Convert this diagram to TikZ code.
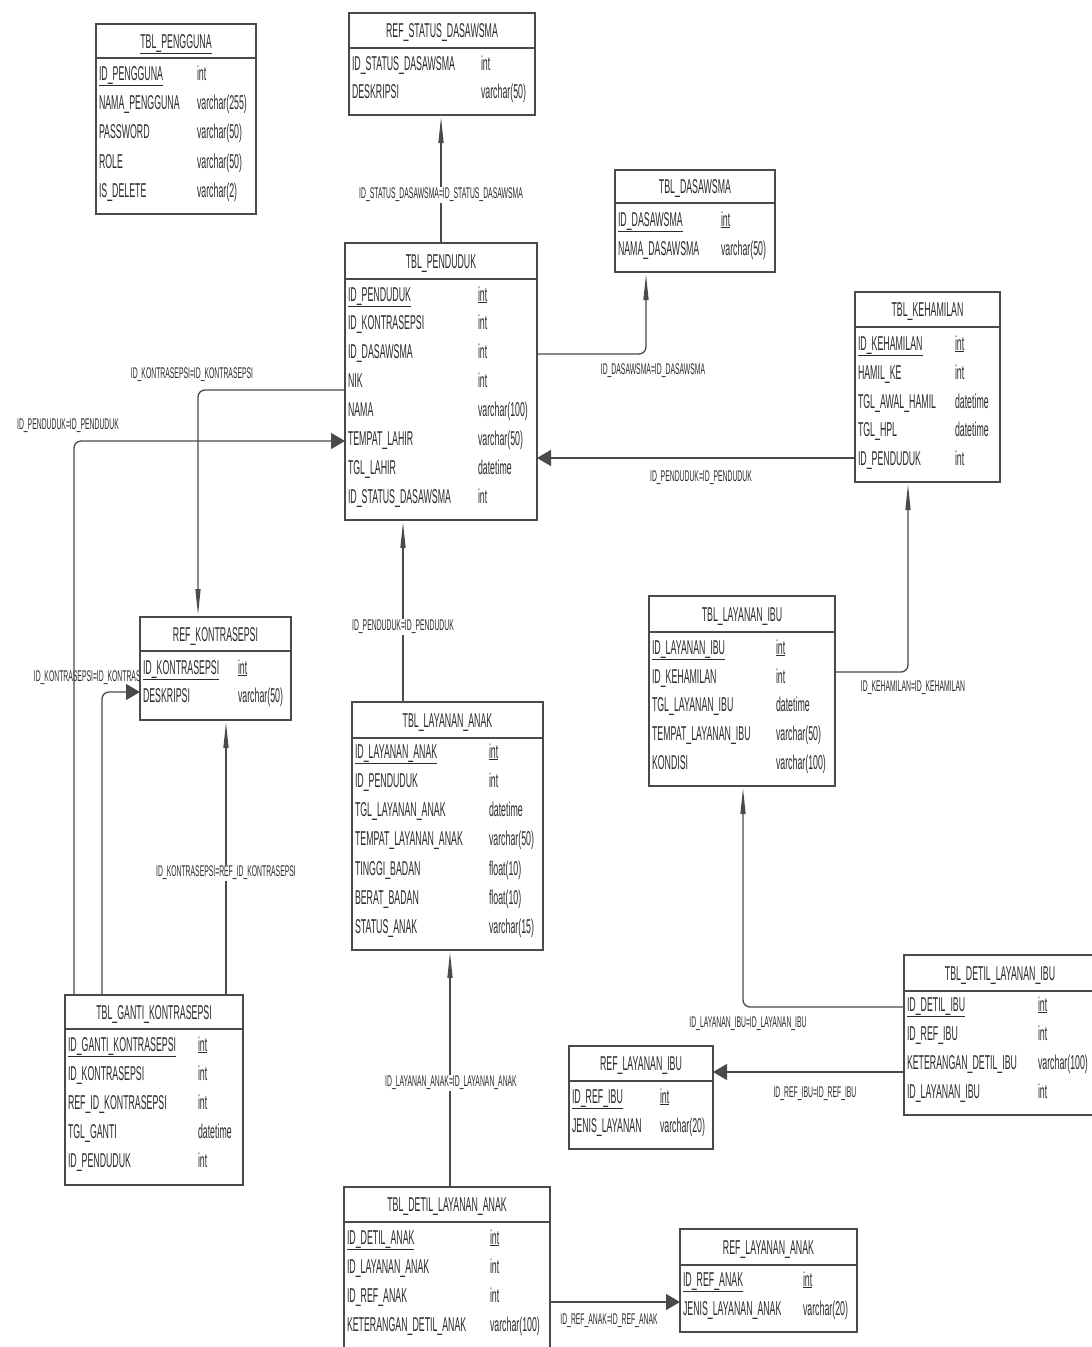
\documentclass[tikz,border=0pt]{standalone}
\usepackage{fontspec}
\newfontfamily\erfont{Liberation Sans}[FakeStretch=0.44]
\usetikzlibrary{arrows.meta}
\definecolor{ertext}{HTML}{2B2B2B}
\definecolor{erline}{HTML}{4A4A4A}
\tikzset{
  tbl/.style={draw=erline, line width=1.3pt, fill=white, inner sep=0pt, outer sep=0pt, rectangle},
  tline/.style={draw=erline, line width=1.3pt},
  tcell/.style={inner sep=0pt, outer sep=0pt, text=ertext, font=\erfont\fontsize{20}{22}\selectfont},
  rlabel/.style={inner sep=1.5pt, text=ertext, font=\erfont\fontsize{15.5}{17}\selectfont},
  onl/.style={fill=white},
  conn/.style={draw=erline, line width=1.3pt, rounded corners=7pt},
  htip/.style={-{Triangle[length=14pt,width=16pt]}},
  vtip/.style={-{Triangle[length=26pt,width=5pt]}, shorten >=2pt},
}
% name, x1, y1, x2, y2, header line y, title
\newcommand\etable[7]{%
  \node[tbl, minimum width={(#4-#2)*1pt}, minimum height={(#5-#3)*1pt}] (#1) at ({(#2+#4)/2},{(#3+#5)/2}) {};
  \draw[tline] (#2,#6) -- (#4,#6);
  \node[tcell, anchor=base] (#1-t) at ({(#2+#4)/2},{(#3+#6)/2+7}) {#7};
}
% name, x, y, field, type x, type
\newcommand\erow[6]{%
  \node[tcell, anchor=base west] (#1) at (#2,#3+7) {#4};
  \node[tcell, anchor=base west] (#1-ty) at (#5,#3+7) {#6};
}
\begin{document}
\begin{tikzpicture}[x=1pt,y=-1pt]
\useasboundingbox[fill=white] (0,0) rectangle (1092,1347);

% ---- labels drawn under boxes (may be hidden by them)
\node[rlabel] (lf) at (95,678) {ID\_KONTRASEPSI=ID\_KONTRASEPSI};

% ---- tables
\etable{pg}{96}{24}{256}{214}{58}{\underline{TBL\_PENGGUNA}}
\erow{pg1}{99}{73}{\underline{ID\_PENGGUNA}}{197}{int}
\erow{pg2}{99}{102}{NAMA\_PENGGUNA}{197}{varchar(255)}
\erow{pg3}{99}{131}{PASSWORD}{197}{varchar(50)}
\erow{pg4}{99}{161}{ROLE}{197}{varchar(50)}
\erow{pg5}{99}{190}{IS\_DELETE}{197}{varchar(2)}

\etable{rsd}{349}{13}{535}{115}{48}{REF\_STATUS\_DASAWSMA}
\erow{rsd1}{352}{63}{ID\_STATUS\_DASAWSMA}{481}{int}
\erow{rsd2}{352}{91}{DESKRIPSI}{481}{varchar(50)}

\etable{das}{615}{170}{775}{272}{203}{TBL\_DASAWSMA}
\erow{das1}{618}{219}{\underline{ID\_DASAWSMA}}{721}{\underline{int}}
\erow{das2}{618}{248}{NAMA\_DASAWSMA}{721}{varchar(50)}

\etable{pend}{345}{243}{537}{520}{279}{TBL\_PENDUDUK}
\erow{pend1}{348}{294}{\underline{ID\_PENDUDUK}}{478}{\underline{int}}
\erow{pend2}{348}{322}{ID\_KONTRASEPSI}{478}{int}
\erow{pend3}{348}{351}{ID\_DASAWSMA}{478}{int}
\erow{pend4}{348}{380}{NIK}{478}{int}
\erow{pend5}{348}{409}{NAMA}{478}{varchar(100)}
\erow{pend6}{348}{438}{TEMPAT\_LAHIR}{478}{varchar(50)}
\erow{pend7}{348}{467}{TGL\_LAHIR}{478}{datetime}
\erow{pend8}{348}{496}{ID\_STATUS\_DASAWSMA}{478}{int}

\etable{keh}{855}{292}{1000}{482}{327}{TBL\_KEHAMILAN}
\erow{keh1}{858}{343}{\underline{ID\_KEHAMILAN}}{955}{\underline{int}}
\erow{keh2}{858}{372}{HAMIL\_KE}{955}{int}
\erow{keh3}{858}{401}{TGL\_AWAL\_HAMIL}{955}{datetime}
\erow{keh4}{858}{429}{TGL\_HPL}{955}{datetime}
\erow{keh5}{858}{458}{ID\_PENDUDUK}{955}{int}

\etable{rk}{140}{617}{291}{720}{651}{REF\_KONTRASEPSI}
\erow{rk1}{143}{667}{\underline{ID\_KONTRASEPSI}}{238}{\underline{int}}
\erow{rk2}{143}{695}{DESKRIPSI}{238}{varchar(50)}

\etable{li}{649}{596}{835}{786}{632}{TBL\_LAYANAN\_IBU}
\erow{li1}{652}{647}{\underline{ID\_LAYANAN\_IBU}}{776}{\underline{int}}
\erow{li2}{652}{676}{ID\_KEHAMILAN}{776}{int}
\erow{li3}{652}{704}{TGL\_LAYANAN\_IBU}{776}{datetime}
\erow{li4}{652}{733}{TEMPAT\_LAYANAN\_IBU}{776}{varchar(50)}
\erow{li5}{652}{762}{KONDISI}{776}{varchar(100)}

\etable{la}{352}{702}{543}{950}{738}{TBL\_LAYANAN\_ANAK}
\erow{la1}{355}{751}{\underline{ID\_LAYANAN\_ANAK}}{489}{\underline{int}}
\erow{la2}{355}{780}{ID\_PENDUDUK}{489}{int}
\erow{la3}{355}{809}{TGL\_LAYANAN\_ANAK}{489}{datetime}
\erow{la4}{355}{838}{TEMPAT\_LAYANAN\_ANAK}{489}{varchar(50)}
\erow{la5}{355}{868}{TINGGI\_BADAN}{489}{float(10)}
\erow{la6}{355}{897}{BERAT\_BADAN}{489}{float(10)}
\erow{la7}{355}{926}{STATUS\_ANAK}{489}{varchar(15)}

\etable{gk}{65}{995}{243}{1185}{1029}{TBL\_GANTI\_KONTRASEPSI}
\erow{gk1}{68}{1044}{\underline{ID\_GANTI\_KONTRASEPSI}}{198}{\underline{int}}
\erow{gk2}{68}{1073}{ID\_KONTRASEPSI}{198}{int}
\erow{gk3}{68}{1102}{REF\_ID\_KONTRASEPSI}{198}{int}
\erow{gk4}{68}{1131}{TGL\_GANTI}{198}{datetime}
\erow{gk5}{68}{1160}{ID\_PENDUDUK}{198}{int}

\etable{dli}{904}{955}{1096}{1115}{991}{TBL\_DETIL\_LAYANAN\_IBU}
\erow{dli1}{907}{1004}{\underline{ID\_DETIL\_IBU}}{1038}{\underline{int}}
\erow{dli2}{907}{1033}{ID\_REF\_IBU}{1038}{int}
\erow{dli3}{907}{1062}{KETERANGAN\_DETIL\_IBU}{1038}{varchar(100)}
\erow{dli4}{907}{1091}{ID\_LAYANAN\_IBU}{1038}{int}

\etable{rli}{569}{1046}{713}{1149}{1081}{REF\_LAYANAN\_IBU}
\erow{rli1}{572}{1096}{\underline{ID\_REF\_IBU}}{660}{\underline{int}}
\erow{rli2}{572}{1125}{JENIS\_LAYANAN}{660}{varchar(20)}

\etable{dla}{344}{1187}{550}{1352}{1222}{TBL\_DETIL\_LAYANAN\_ANAK}
\erow{dla1}{347}{1237}{\underline{ID\_DETIL\_ANAK}}{490}{\underline{int}}
\erow{dla2}{347}{1266}{ID\_LAYANAN\_ANAK}{490}{int}
\erow{dla3}{347}{1295}{ID\_REF\_ANAK}{490}{int}
\erow{dla4}{347}{1324}{KETERANGAN\_DETIL\_ANAK}{490}{varchar(100)}

\etable{rla}{680}{1229}{857}{1332}{1265}{REF\_LAYANAN\_ANAK}
\erow{rla1}{683}{1279}{\underline{ID\_REF\_ANAK}}{803}{\underline{int}}
\erow{rla2}{683}{1308}{JENIS\_LAYANAN\_ANAK}{803}{varchar(20)}

% ---- connectors
% a
\draw[conn, vtip] (pend.north -| 441,0) -- (rsd.south -| 441,0);
\node[rlabel, onl] (la-a) at (441,195) {ID\_STATUS\_DASAWSMA=ID\_STATUS\_DASAWSMA};
% b
\draw[conn, vtip] (pend.east |- 0,354) -| (das.south -| 646,0);
\node[rlabel] (la-b) at (653,371) {ID\_DASAWSMA=ID\_DASAWSMA};
% c
\draw[conn, htip] (keh.west |- 0,458) -- (pend.east |- 0,458);
\node[rlabel] (la-c) at (701,478) {ID\_PENDUDUK=ID\_PENDUDUK};
% d
\draw[conn, vtip] (pend.west |- 0,390) -| (rk.north -| 198,0);
\node[rlabel] (la-d) at (192,375) {ID\_KONTRASEPSI=ID\_KONTRASEPSI};
% e
\draw[conn, htip] (gk.north -| 74,0) |- (pend.west |- 0,441);
\node[rlabel] (la-e) at (68,426) {ID\_PENDUDUK=ID\_PENDUDUK};
% f
\draw[conn, htip] (gk.north -| 102,0) |- (rk.west |- 0,692);
% g
\draw[conn, vtip] (gk.north -| 226,0) -- (rk.south -| 226,0);
\node[rlabel, onl] (la-g) at (226,873) {ID\_KONTRASEPSI=REF\_ID\_KONTRASEPSI};
% h
\draw[conn, vtip] (la.north -| 403,0) -- (pend.south -| 403,0);
\node[rlabel, onl] (la-h) at (403,627) {ID\_PENDUDUK=ID\_PENDUDUK};
% i
\draw[conn, vtip] (li.east |- 0,672) -| (keh.south -| 908,0);
\node[rlabel] (la-i) at (913,688) {ID\_KEHAMILAN=ID\_KEHAMILAN};
% j
\draw[conn, vtip] (dli.west |- 0,1007) -| (li.south -| 743,0);
\node[rlabel] (la-j) at (748,1024) {ID\_LAYANAN\_IBU=ID\_LAYANAN\_IBU};
% k
\draw[conn, htip] (dli.west |- 0,1072) -- (rli.east |- 0,1072);
\node[rlabel] (la-k) at (815,1094) {ID\_REF\_IBU=ID\_REF\_IBU};
% l
\draw[conn, vtip] (dla.north -| 450,0) -- (la.south -| 450,0);
\node[rlabel, onl] (la-l) at (451,1083) {ID\_LAYANAN\_ANAK=ID\_LAYANAN\_ANAK};
% m
\draw[conn, htip] (dla.east |- 0,1302) -- (rla.west |- 0,1302);
\node[rlabel] (la-m) at (609,1321) {ID\_REF\_ANAK=ID\_REF\_ANAK};
\end{tikzpicture}
\end{document}
